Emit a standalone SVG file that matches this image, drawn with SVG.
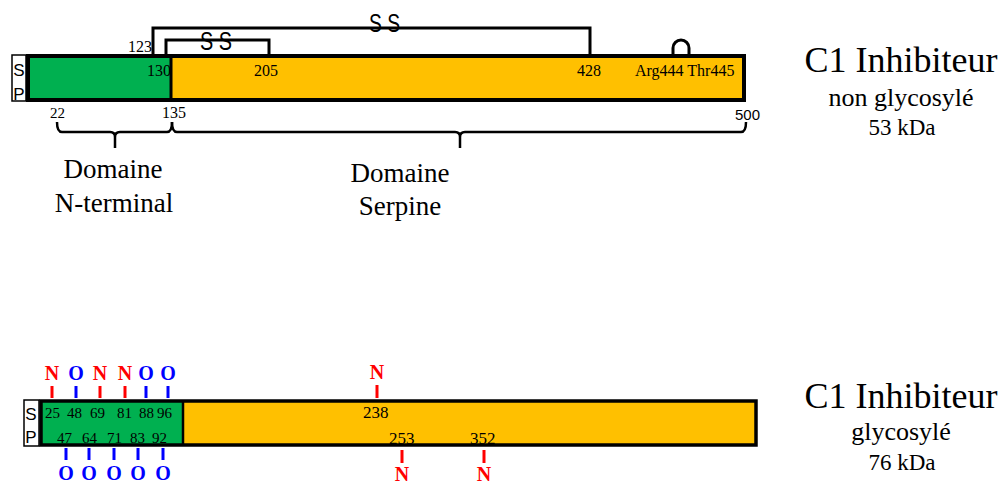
<svg xmlns="http://www.w3.org/2000/svg" width="1005" height="485" viewBox="0 0 1005 485">
<style>
.serif{font-family:"Liberation Serif","Times New Roman",serif;fill:#000}
.sans{font-family:"Liberation Sans",Arial,sans-serif;fill:#000}
.n{font-size:16px}
.title{font-size:36px;text-anchor:middle}
.sub{font-size:26px;text-anchor:middle}
.kda{font-size:23px;text-anchor:middle}
.dom{font-size:27px;text-anchor:middle}
.gN{font-family:"Liberation Serif",serif;font-weight:bold;font-size:20px;fill:#FF0000;text-anchor:middle}
.gO{font-family:"Liberation Serif",serif;font-weight:bold;font-size:20px;fill:#0000FF;text-anchor:middle}
.tN{stroke:#FF0000;stroke-width:3}
.tO{stroke:#0000FF;stroke-width:3}
.ln{fill:none;stroke:#000;stroke-width:3}
.br{fill:none;stroke:#000;stroke-width:2.5}
.ss{font-family:"Liberation Sans",Arial,sans-serif;font-size:25px;fill:#000}
</style>

<!-- Top protein: non glycosylé -->
<g id="sp-top">
<rect x="12" y="55" width="14" height="46" fill="#fff" stroke="#000" stroke-width="1.5"/>
<text class="sans" x="19" y="76" font-size="17" text-anchor="middle">S</text>
<text class="sans" x="19" y="100" font-size="17" text-anchor="middle">P</text>
</g>
<g id="bar-top">
<rect x="28" y="56" width="143" height="44" fill="#00B050"/>
<rect x="171" y="56" width="573" height="44" fill="#FFC000"/>
<rect x="28" y="56" width="716" height="44" fill="none" stroke="#000" stroke-width="4"/>
<line x1="171" y1="56" x2="171" y2="100" stroke="#000" stroke-width="3"/>
<text class="serif n" x="128" y="52">123</text>
<text class="serif n" x="147" y="76">130</text>
<text class="serif n" x="254" y="76">205</text>
<text class="serif n" x="577" y="76">428</text>
<text class="serif n" x="635" y="76">Arg444 Thr445</text>
<text class="serif" x="50" y="118" font-size="15">22</text>
<text class="serif n" x="162" y="118">135</text>
<text class="sans" x="735" y="120" font-size="15">500</text>
</g>
<g id="loop">
<path d="M673,54 V48 A8,8 0 0 1 689,48 V54" class="ln"/>
</g>

<g id="connectors">
<path d="M166,54 V40 H269 V54" class="ln"/>
<path d="M153,54 V28 H590 V54" class="ln"/>
<path d="M57,122 Q57,132 62,132 H110 Q115,132 115,137 V148 M115,137 Q115,132 120,132 H167 Q172,132 172,122" class="br"/>
<path d="M172,122 Q172,132 177,132 H455 Q460,132 460,137 V148 M460,137 Q460,132 465,132 H741 Q746,132 746,122" class="br"/>
</g>
<g id="ss-labels">
<text class="ss" x="200" y="50" textLength="32" lengthAdjust="spacingAndGlyphs">S S</text>
<text class="ss" x="369" y="32" textLength="31" lengthAdjust="spacingAndGlyphs">S S</text>
</g>
<g id="domain-labels">
<text class="serif dom" x="113" y="178">Domaine</text>
<text class="serif dom" x="114" y="212">N-terminal</text>
<text class="serif dom" x="400" y="182">Domaine</text>
<text class="serif dom" x="400" y="215">Serpine</text>
</g>
<g id="title-top">
<text class="serif title" x="901" y="72">C1 Inhibiteur</text>
<text class="serif sub" x="901" y="106">non glycosylé</text>
<text class="serif kda" x="902" y="135">53 kDa</text>
</g>

<!-- Bottom protein: glycosylé -->
<g id="sp-bottom">
<rect x="24" y="400" width="15" height="46" fill="#fff" stroke="#000" stroke-width="1.5"/>
<text class="sans" x="31" y="420" font-size="17" text-anchor="middle">S</text>
<text class="sans" x="31" y="443" font-size="17" text-anchor="middle">P</text>
</g>
<g id="bar-bottom">
<rect x="41" y="401" width="142" height="44" fill="#00B050"/>
<rect x="183" y="401" width="573" height="44" fill="#FFC000"/>
<rect x="41" y="401" width="715" height="44" fill="none" stroke="#000" stroke-width="3.5"/>
<line x1="183" y1="401" x2="183" y2="445" stroke="#000" stroke-width="2.5"/>
<g class="serif" font-size="15">
<text x="45" y="418">25</text>
<text x="67" y="418">48</text>
<text x="90" y="418">69</text>
<text x="117" y="418">81</text>
<text x="139" y="418">88</text>
<text x="157" y="418">96</text>
<text x="57" y="443">47</text>
<text x="82" y="443">64</text>
<text x="107" y="443">71</text>
<text x="130" y="443">83</text>
<text x="152" y="443">92</text>
<text x="363" y="418" font-size="17">238</text>
<text x="389" y="444" font-size="17">253</text>
<text x="470" y="444" font-size="17">352</text>
</g>
</g>
<g id="glyco-sites">
<line class="tN" x1="52" y1="386" x2="52" y2="398"/><text class="gN" x="52" y="380">N</text>
<line class="tO" x1="76" y1="386" x2="76" y2="398"/><text class="gO" x="76" y="380">O</text>
<line class="tN" x1="100" y1="386" x2="100" y2="398"/><text class="gN" x="100" y="380">N</text>
<line class="tN" x1="125" y1="386" x2="125" y2="398"/><text class="gN" x="125" y="380">N</text>
<line class="tO" x1="146" y1="386" x2="146" y2="398"/><text class="gO" x="146" y="380">O</text>
<line class="tO" x1="168" y1="386" x2="168" y2="398"/><text class="gO" x="168" y="380">O</text>
<line class="tN" x1="377" y1="385" x2="377" y2="398"/><text class="gN" x="377" y="379">N</text>
<line class="tO" x1="66" y1="448" x2="66" y2="460"/><text class="gO" x="66" y="480">O</text>
<line class="tO" x1="89" y1="448" x2="89" y2="460"/><text class="gO" x="89" y="480">O</text>
<line class="tO" x1="114" y1="448" x2="114" y2="460"/><text class="gO" x="114" y="480">O</text>
<line class="tO" x1="138" y1="448" x2="138" y2="460"/><text class="gO" x="138" y="480">O</text>
<line class="tO" x1="163" y1="448" x2="163" y2="460"/><text class="gO" x="163" y="480">O</text>
<line class="tN" x1="402" y1="450" x2="402" y2="463"/><text class="gN" x="402" y="481">N</text>
<line class="tN" x1="484" y1="450" x2="484" y2="463"/><text class="gN" x="484" y="481">N</text>
</g>
<g id="title-bottom">
<text class="serif title" x="901" y="408">C1 Inhibiteur</text>
<text class="serif sub" x="901" y="440">glycosylé</text>
<text class="serif kda" x="902" y="470">76 kDa</text>
</g>
</svg>
